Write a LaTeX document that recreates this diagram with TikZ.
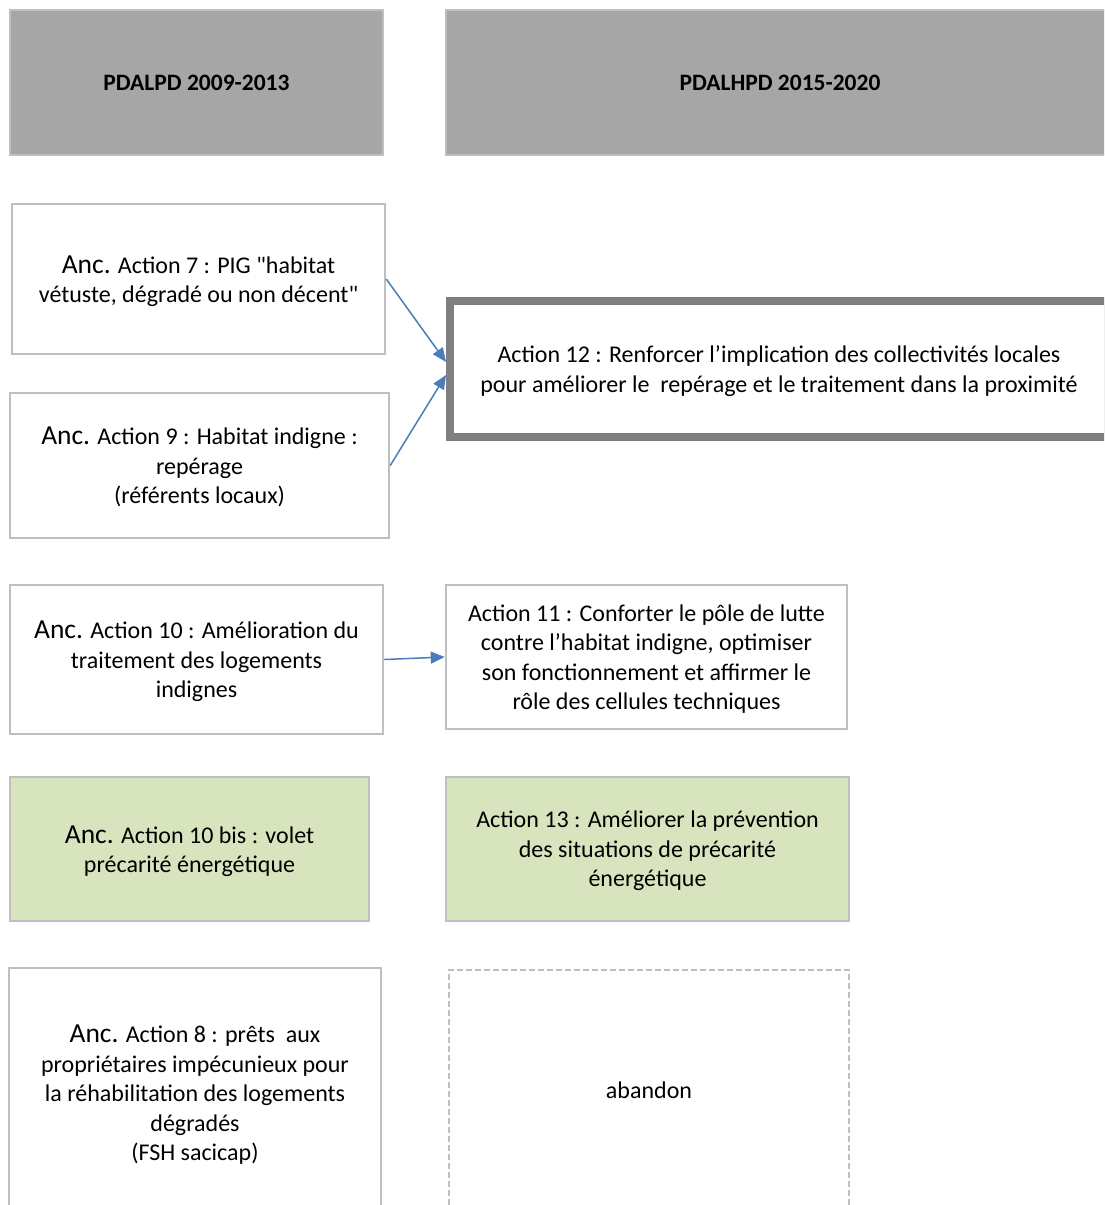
\documentclass[tikz,border=0pt]{standalone}
\usepackage{fontspec}
\setmainfont{Carlito}
\usetikzlibrary{arrows.meta}

\definecolor{headgray}{HTML}{A6A6A6}
\definecolor{boxgray}{HTML}{BFBFBF}
\definecolor{darkgray}{HTML}{7F7F7F}
\definecolor{lightgreen}{HTML}{D7E4BD}
\definecolor{linkblue}{HTML}{4A7EBB}

\newcommand{\anc}{{\fontsize{27.5}{29.5}\selectfont Anc.}}

\tikzstyle{frame} = [draw=boxgray, line width=2.5pt, align=center, inner sep=0pt]
\tikzstyle{box} = [frame, font=\fontsize{24}{29.5}\selectfont, text depth=0pt]
\tikzstyle{headbox} = [frame, fill=headgray, font=\fontsize{23.5}{29.5}\selectfont\bfseries]
\tikzstyle{greenbox} = [box, fill=lightgreen]
\tikzstyle{mainbox} = [box, draw=darkgray, line width=8pt]
\tikzstyle{dropbox} = [box, line width=1.5pt, dash pattern=on 6pt off 3pt]
\tikzstyle{link} = [draw=linkblue, line width=1.5pt, -{Triangle[length=14pt,width=12pt]}, fill=linkblue]

\begin{document}
\begin{tikzpicture}[x=1pt,y=-1pt]
	\useasboundingbox (0,0) rectangle (1104,1205);
	\clip (0,0) rectangle (1104,1205);
	\fill[white] (0,0) rectangle (1104,1205);

	% headers
	\node[headbox, minimum width=668, minimum height=145] (h2) at (780,82.5) {PDALHPD 2015-2020};
	\node[headbox, minimum width=373, minimum height=145] (h1) at (196.5,82.5) {PDALPD 2009-2013};

	% old actions
	\node[box, minimum width=373, minimum height=150] (a7) at (198.5,279) {\anc{} Action 7 : PIG \textquotedbl habitat\\vétuste, dégradé ou non décent\textquotedbl};
	\node[box, minimum width=379, minimum height=145] (a9) at (199.5,465.5) {\anc{} Action 9 : Habitat indigne :\\repérage\\(référents locaux)};
	\node[box, minimum width=373, minimum height=149] (a10) at (196.5,659.5) {\anc{} Action 10 : Amélioration du\\traitement des logements\\indignes};
	\node[greenbox, minimum width=359, minimum height=144] (a10b) at (189.5,849) {\anc{} Action 10 bis : volet\\précarité énergétique};
	\node[box, minimum width=372, minimum height=250] (a8) at (195,1093) {\anc{} Action 8 : prêts~ aux\\propriétaires impécunieux pour\\la réhabilitation des logements\\dégradés\\(FSH sacicap)};

	% new actions
	\node[mainbox, minimum width=658, minimum height=136] (a12) at (779,369) {Action 12 : Renforcer l’implication des collectivités locales\\pour améliorer le~ repérage et le traitement dans la proximité};
	\node[box, minimum width=401, minimum height=144] (a11) at (646.5,657) {Action 11 : Conforter le pôle de lutte\\contre l’habitat indigne, optimiser\\son fonctionnement et affirmer le\\rôle des cellules techniques};
	\node[greenbox, minimum width=403, minimum height=144] (a13) at (647.5,849) {Action 13 : Améliorer la prévention\\des situations de précarité\\énergétique};
	\node[dropbox, minimum width=400, minimum height=240] (ab) at (649,1090) {abandon};

	% links
	\draw[link] (a7.east) -- ([yshift=7pt]a12.west);
	\draw[link] (a9.east) -- ([yshift=-6pt]a12.west);
	\draw[link] (a10.east) -- (a11.west);
\end{tikzpicture}
\end{document}
